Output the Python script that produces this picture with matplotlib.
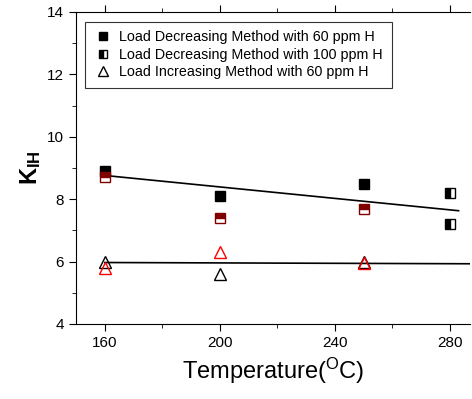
import matplotlib
matplotlib.use('Agg')
from matplotlib import pyplot
from matplotlib.ticker import MultipleLocator

pyplot.rcParams['font.family'] = ['Liberation Sans', 'DejaVu Sans']

# Load decreasing, 60 ppm H
dec60_t = [160, 200, 250]
dec60_k = [8.9, 8.1, 8.5]
# Load decreasing, 100 ppm H (red half-filled)
dec100_t = [160, 200, 250]
dec100_k = [8.7, 7.4, 7.7]
# Load decreasing, 100 ppm H at 280 (black half-filled)
dec100b_t = [280, 280]
dec100b_k = [8.2, 7.2]
# Load increasing, 60 ppm H
inc60_t = [160, 200, 250]
inc60_k = [6.0, 5.6, 6.0]
inc60r_t = [160, 200, 250]
inc60r_k = [5.8, 6.3, 5.95]
# fit lines
fit_upper_t = [160, 283]
fit_upper = [8.76, 7.63]
fit_lower_t = [160, 287]
fit_lower = [5.97, 5.93]

fig = pyplot.figure(figsize=(4.72, 3.99), dpi=100)
ax = fig.add_axes([0.161, 0.188, 0.835, 0.782])

ax.plot(fit_upper_t, fit_upper, '-', color='black', linewidth=1.2)
ax.plot(fit_lower_t, fit_lower, '-', color='black', linewidth=1.2)

ax.plot(dec60_t, dec60_k, 's', color='black', markersize=7.5, linestyle='none',
        label='Load Decreasing Method with 60 ppm H')
ax.plot(dec100b_t, dec100b_k, 's', color='black', fillstyle='left', markerfacecoloralt='white',
        markersize=7.5, markeredgewidth=1, linestyle='none',
        label='Load Decreasing Method with 100 ppm H')
ax.plot(dec100_t, dec100_k, 's', color='#800000', fillstyle='top', markerfacecoloralt='white',
        markersize=7.5, markeredgewidth=1, linestyle='none')
ax.plot(inc60_t, inc60_k, '^', color='black', markerfacecolor='none', markersize=9,
        markeredgewidth=1, linestyle='none',
        label='Load Increasing Method with 60 ppm H')
ax.plot(inc60r_t, inc60r_k, '^', color='red', markerfacecolor='none', markersize=9,
        markeredgewidth=1, linestyle='none')

ax.set_xlim(150, 287)
ax.set_ylim(4, 14)
ax.xaxis.set_minor_locator(MultipleLocator(20))
ax.yaxis.set_major_locator(MultipleLocator(2))
ax.yaxis.set_minor_locator(MultipleLocator(1))
ax.set_xticks([160, 200, 240, 280])
ax.tick_params(axis='both', which='major', direction='out', length=5, labelsize=11)
ax.tick_params(axis='both', which='minor', direction='out', length=3)
ax.tick_params(top=True, which='both')
ax.spines['right'].set_visible(False)

ax.set_xlabel('Temperature($\\mathregular{^{O}}$C)', fontsize=17)
ax.set_ylabel('K$\\mathregular{_{IH}}$', fontsize=17, fontweight='bold', labelpad=3)

leg = ax.legend(loc='upper left', fontsize=10.3, frameon=True, fancybox=False,
                edgecolor='black', handletextpad=0.5, borderpad=0.6,
                labelspacing=0.25, handlelength=1.3, markerscale=0.8,
                bbox_to_anchor=(0.005, 0.992))
leg.get_frame().set_linewidth(0.8)

fig.savefig('out.png', dpi=100)
